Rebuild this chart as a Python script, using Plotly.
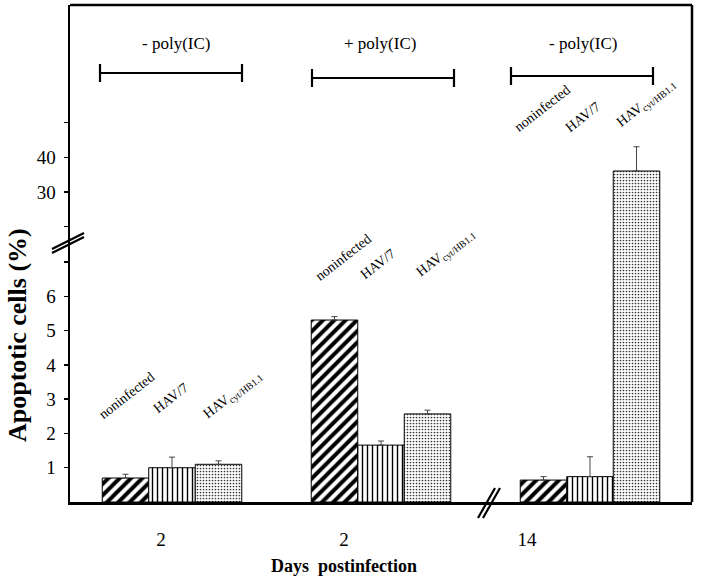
import plotly.graph_objects as go

# ---------------- data ----------------
group_pos = [0, 1, 2]
tick_pos = [-0.053, 0.823, 1.699]
tick_labels = ["2", "2", "14"]
series_names = ["noninfected", "HAV/7", "HAV<sub>cyt/HB1.1</sub>"]
noninfected = [0.70, 5.31, 0.64]
noninfected_err = [0.11, 0.10, 0.10]
hav7 = [1.00, 1.66, 0.74]
hav7_err = [0.31, 0.12, 0.58]
havcyt = [1.10, 2.57, 36.05]
havcyt_err = [0.10, 0.11, 7.0]
bracket_labels = ["- poly(IC)", "+ poly(IC)", "- poly(IC)"]

# ---------------- geometry helpers (pixel -> paper) ----------------
L, R, T, B = 70, 10, 5, 80
W, H = 702, 582
PW, PH = W - L - R, H - T - B
Y0 = H - B


def px(x):
    return (x - L) / PW


def py(y):
    return (Y0 - y) / PH


brk = py(245)
FONT = "Liberation Serif"

styles = [
    dict(shape="/", size=8, solidity=0.5, fgcolor="black", bgcolor="white"),
    dict(shape="|", size=5, solidity=0.28, fgcolor="black", bgcolor="white"),
    dict(shape=".", size=3, solidity=0.25, fgcolor="#333", bgcolor="white"),
]
vals = [noninfected, hav7, havcyt]
errs = [noninfected_err, hav7_err, havcyt_err]

fig = go.Figure()
for yax in ["y", "y2"]:
    for name, v, e, st in zip(series_names, vals, errs, styles):
        fig.add_trace(go.Bar(
            x=group_pos, y=v, name=name, xaxis="x", yaxis=yax,
            marker=dict(color="white", pattern=st, line=dict(color="black", width=1)),
            error_y=dict(type="data", array=e, arrayminus=[0] * len(e), symmetric=False,
                         color="#444", thickness=1, width=3),
            showlegend=False, hoverinfo="skip",
        ))

tf = dict(family=FONT, size=19, color="black")
fig.update_layout(
    template="none",
    width=W, height=H,
    margin=dict(l=L, r=R, t=T, b=B, pad=0),
    paper_bgcolor="white", plot_bgcolor="white",
    barmode="group", bargap=0.3325, bargroupgap=0,
    font=dict(family=FONT, color="black", size=16),
    xaxis=dict(domain=[0, 1], anchor="y", range=[-0.488, 2.488], automargin=False,
               tickvals=tick_pos, ticktext=tick_labels, ticks="",
               ticklabelstandoff=19, tickfont=tf,
               showline=True, linewidth=2.5, linecolor="black",
               showgrid=False, zeroline=False, fixedrange=True),
    yaxis=dict(domain=[0, brk], range=[0, 7.5], automargin=False,
               tickvals=[1, 2, 3, 4, 5, 6, 7], ticktext=["1", "2", "3", "4", "5", "6", ""],
               ticks="outside", ticklen=4, tickwidth=1.5, tickcolor="black",
               tickfont=tf, ticklabelstandoff=4,
               showline=True, linewidth=2.5, linecolor="black",
               showgrid=False, zeroline=False, fixedrange=True),
    yaxis2=dict(domain=[brk, 1], range=[14.73, 83.9], anchor="x", automargin=False,
                tickvals=[20, 30, 40, 50], ticktext=["", "30", "40", ""],
                ticks="outside", ticklen=4, tickwidth=1.5, tickcolor="black",
                tickfont=tf, ticklabelstandoff=4,
                showline=True, linewidth=2.5, linecolor="black",
                showgrid=False, zeroline=False, fixedrange=True),
)

shapes = []
# top and right frame lines
shapes.append(dict(type="line", xref="paper", yref="paper", x0=0, x1=1, y0=1, y1=1,
                   line=dict(color="black", width=2.5)))
shapes.append(dict(type="line", xref="paper", yref="paper", x0=1, x1=1, y0=0, y1=1,
                   line=dict(color="black", width=2.5)))
# y-axis break marks
for dy in (0, 4):
    shapes.append(dict(type="line", xref="paper", yref="paper",
                       x0=px(52), y0=py(249 + dy), x1=px(84), y1=py(233 + dy),
                       line=dict(color="black", width=2.2)))
# x-axis break marks
for dx in (0, 5):
    shapes.append(dict(type="line", xref="paper", yref="paper",
                       x0=px(478 + dx), y0=py(518), x1=px(495 + dx), y1=py(488),
                       line=dict(color="black", width=2.2)))

# brackets
bracket_x = [(100, 242, 73), (312, 454, 78), (511, 653, 76)]
for (a, b, yy) in bracket_x:
    shapes.append(dict(type="line", xref="paper", yref="paper", x0=px(a), x1=px(b),
                       y0=py(yy), y1=py(yy), line=dict(color="black", width=1.8)))
    for xx in (a, b):
        shapes.append(dict(type="line", xref="paper", yref="paper", x0=px(xx), x1=px(xx),
                           y0=py(yy - 9), y1=py(yy + 9), line=dict(color="black", width=2.2)))
fig.update_layout(shapes=shapes)

ann = []
label_pos = [(176, 44), (380, 44), (583, 44)]
for t, (x, y) in zip(bracket_labels, label_pos):
    ann.append(dict(text=t, xref="paper", yref="paper", x=px(x), y=py(y),
                    showarrow=False, font=dict(family=FONT, size=17),
                    xanchor="center", yanchor="middle"))

rot_pos = [
    [(127, 396), (170, 398), (232, 395)],
    [(343, 257), (377, 264), (445, 253)],
    [(542, 108), (582, 117), (646, 104)],
]
for grp in rot_pos:
    for name, (x, y) in zip(series_names, grp):
        ann.append(dict(text=name, xref="paper", yref="paper", x=px(x), y=py(y),
                        showarrow=False, textangle=-38, font=dict(family=FONT, size=14),
                        xanchor="center", yanchor="middle"))

ann.append(dict(text="<b>Apoptotic cells (%)</b>", xref="paper", yref="paper",
                x=px(17), y=py(335), showarrow=False, textangle=-90,
                font=dict(family=FONT, size=26), xanchor="center", yanchor="middle"))
ann.append(dict(text="<b>Days\u00a0 postinfection</b>", xref="paper", yref="paper",
                x=px(344), y=py(566), showarrow=False,
                font=dict(family=FONT, size=18), xanchor="center", yanchor="middle"))
fig.update_layout(annotations=ann)

fig.write_html("out.html", config={"displayModeBar": False, "staticPlot": True},
               post_script="document.body.style.margin='0';document.body.style.overflow='hidden';")
